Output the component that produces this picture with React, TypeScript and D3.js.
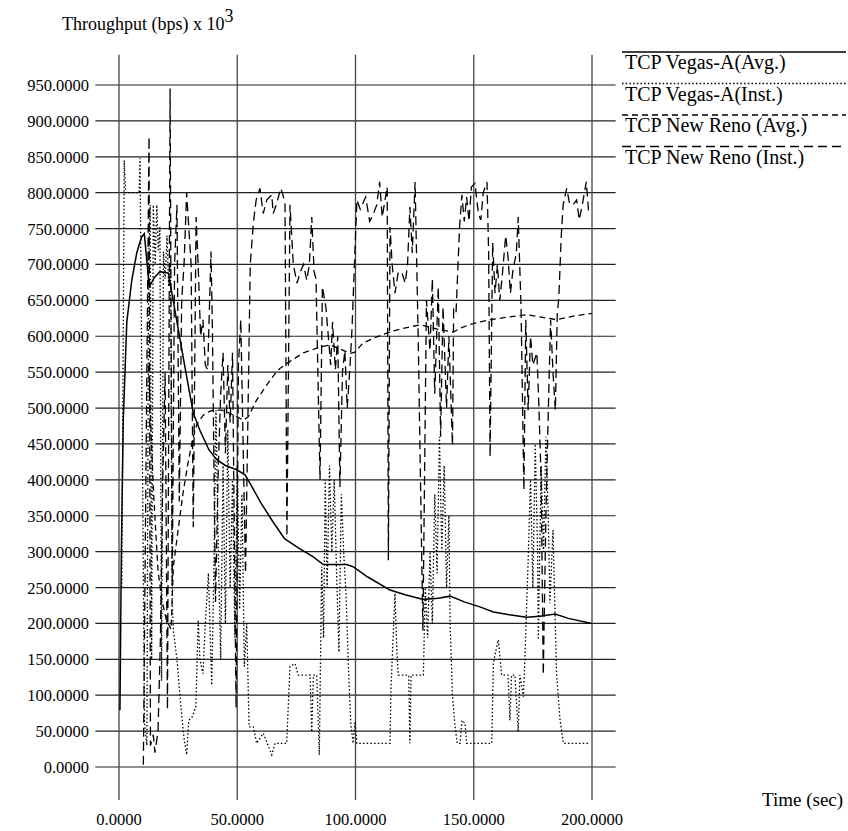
import React from "react";
import * as d3 from "d3";

// ---------- data (time sec, throughput bps x 10^3) ----------
const vegasAvg: [number, number][] = [
  [0.4, 79], [1, 300], [1.8, 483], [3.3, 620], [5.4, 678], [7.5, 716], [9.5, 738], [10.7, 743],
  [12.8, 669], [15, 682], [17.3, 690], [20.9, 688], [24.5, 620], [28, 555], [31.4, 493], [34.2, 469],
  [38, 442], [41.3, 428], [45, 420], [49.8, 414], [53.3, 407], [55.4, 395], [60, 368], [65, 342],
  [70, 318], [76, 305], [82, 293], [86.4, 282], [96.3, 282], [99, 279], [105, 265], [114.6, 246.5],
  [121, 240], [128.7, 233.5], [135, 235], [140, 238], [146, 230], [152.6, 223], [158.3, 216],
  [165, 212], [172.4, 208.5], [178, 210], [184.4, 213], [190, 207], [199.9, 200],
];

const vegasInst: [number, number][] = [
  [1.2, 250], [2.2, 845], [2.8, 800], [8.5, 800], [8.9, 848], [10.8, 60], [11.8, 30], [12.5, 700],
  [13.2, 783], [13.8, 150], [14.5, 783], [15.3, 700], [16, 783], [16.6, 720], [17.3, 752], [18, 120],
  [18.8, 718], [19.5, 680], [20.3, 740], [21, 669], [21.8, 700], [22.5, 230], [23, 190], [24.5, 150],
  [26, 90], [27.5, 40], [28.6, 17], [29.5, 65], [31, 70], [32.5, 84], [33.5, 205], [34.2, 150],
  [35.5, 130], [36.5, 200], [37.8, 270], [39.2, 114], [40.2, 288], [41, 497], [42, 300], [43, 150],
  [44, 420], [45, 200], [46, 470], [47, 250], [48, 400], [49, 180], [50, 420], [51, 220], [52, 380],
  [53, 140], [54, 200], [55, 56], [56.8, 56], [58.2, 33], [61, 47], [64.6, 17], [66, 33], [70.9, 33],
  [72.3, 140], [74.4, 144], [75.8, 128], [80.8, 128], [81.5, 49], [82.2, 128], [83.6, 128], [84.7, 17],
  [85.7, 279], [86.5, 180], [87.2, 400], [88, 250], [89, 420], [90, 300], [91, 400], [92, 270],
  [93, 160], [94, 380], [95, 300], [96, 240], [97, 140], [98, 60], [99, 33], [99.8, 63], [100.6, 33],
  [114.6, 33], [115, 110], [116.7, 242], [117.5, 160], [118.1, 128], [122.5, 128], [123, 33],
  [123.5, 128], [128.7, 128], [129.5, 250], [130.5, 180], [131.5, 300], [132.5, 200], [133.5, 380],
  [134.5, 270], [135.5, 460], [136.5, 300], [137.5, 420], [138.5, 250], [139.5, 350], [140, 200],
  [141, 100], [142, 60], [143, 33], [144.2, 33], [145, 65], [146.3, 61], [147, 33], [157.6, 33],
  [158.3, 144], [159.2, 160], [160.4, 177], [161.8, 128], [164.5, 128], [165.3, 65], [166, 128],
  [167.4, 128], [168.8, 49], [169.5, 128], [171, 98], [171.7, 158], [173, 288], [174, 400], [175, 250],
  [176, 450], [177, 300], [177.3, 177], [178.5, 420], [179.5, 300], [180.5, 460], [181.5, 350],
  [182.2, 228], [183.5, 330], [185, 130], [186.5, 65], [187.9, 33], [199.2, 33],
];

const renoAvg: [number, number][] = [
  [12.5, 560], [13.5, 470], [14.5, 390], [15.5, 330], [16.5, 274], [18, 235], [20, 205], [22, 192],
  [23, 280], [25, 330], [27, 380], [29, 420], [31, 455], [33, 478], [35.6, 490], [38, 495], [40, 497],
  [43.4, 497], [46, 494], [49.8, 488], [52.6, 483], [54.7, 488], [58, 510], [62, 530], [66, 548],
  [68, 555], [72.3, 565], [78, 577], [85, 585], [89.2, 588], [93, 583], [97.7, 576], [99.8, 578],
  [103, 590], [108, 598], [114.6, 606], [120, 611], [127.3, 616], [131, 613], [135.7, 609],
  [141.4, 606], [144.2, 611], [148, 616], [152.6, 620], [156.9, 623], [165, 627], [172.4, 630],
  [178, 627], [185, 623], [192, 628], [200, 632],
];

const renoInst: [number, number][] = [
  [10.3, 3], [11.5, 450], [12.7, 878], [13.3, 30], [14.5, 45], [15.2, 20], [16.5, 50], [17.5, 177],
  [18.5, 400], [19.5, 550], [20.5, 80], [21.6, 945], [22.5, 250], [23.5, 700], [24.5, 783], [25.5, 370],
  [26.5, 650], [27.5, 700], [28.6, 800], [29.5, 752], [30.5, 700], [31.4, 334], [32.6, 766], [33.5, 697],
  [34.5, 600], [35.5, 623], [36.5, 560], [37.5, 553], [38.9, 718], [39.5, 609], [40.8, 230], [42, 420],
  [43, 520], [44, 577], [45, 437], [46, 560], [47, 480], [48, 577], [49.5, 82], [50.5, 560], [51.5, 623],
  [53.5, 270], [55.5, 700], [56.8, 757], [58, 790], [59.6, 806], [61, 771], [62.5, 790], [64.6, 797],
  [65.2, 771], [66.5, 783], [68.4, 806], [69.3, 797], [70.2, 785], [71, 321], [72.3, 783], [73.7, 700],
  [75.3, 674], [76.5, 688], [78, 700], [79.4, 678], [80.5, 700], [81.5, 766], [82.5, 690], [83.3, 680],
  [85, 400], [86, 669], [87.5, 640], [88.5, 600], [89.5, 560], [90.3, 620], [91.5, 553], [92.5, 600],
  [93.4, 390], [94.5, 550], [95.5, 580], [96.5, 500], [97.7, 560], [98.5, 609], [100.6, 790], [102, 777],
  [104.3, 794], [106, 760], [107.6, 771], [109, 783], [110.2, 815], [111.3, 766], [112.5, 790],
  [113.4, 808], [113.9, 288], [114.6, 752], [115.5, 700], [116.7, 660], [118, 688], [119.5, 690],
  [121, 674], [122, 700], [123, 780], [124, 716], [125.2, 815], [126.5, 600], [128.5, 190], [130, 650],
  [131.5, 580], [132.5, 680], [133.5, 520], [135, 669], [136, 460], [137, 641], [138.5, 500], [139.5, 600],
  [141, 448], [141.5, 637], [142.5, 632], [144, 752], [145, 797], [146, 760], [147, 794], [148, 760],
  [149, 808], [150.5, 813], [152, 770], [153, 762], [154, 800], [155.6, 815], [156.3, 716], [156.9, 432],
  [158, 730], [159, 660], [160, 700], [161, 650], [162, 682], [163.5, 740], [164.5, 710], [165.5, 660],
  [166.5, 690], [168, 716], [168.8, 766], [170, 640], [171.2, 386], [172, 623], [173, 497], [174, 600],
  [175, 560], [176.7, 577], [177.5, 507], [178.5, 400], [179.4, 128], [180.5, 350], [181.5, 493],
  [182.5, 623], [183.5, 550], [184.5, 497], [185.3, 630], [186, 655], [187, 740], [187.8, 783],
  [189.3, 806], [190.5, 785], [192, 783], [193.5, 790], [194.6, 762], [196, 785], [197.6, 815],
  [198.5, 776], [199.4, 776],
];

const yTicks: number[] = d3.range(0, 951, 50);
const xTicks: number[] = [0, 50, 100, 150, 200];

const seriesNames = ["TCP Vegas-A(Avg.)", "TCP Vegas-A(Inst.)", "TCP New Reno (Avg.)", "TCP New Reno (Inst.)"];

// ---------- styles ----------
const FONT = "'Liberation Serif', 'Times New Roman', serif";
const dashes = [null, "1.5,2.2", "6,4", "9,5"];
const widths = [1.5, 1.3, 1.3, 1.3];

export default function App() {
  const x = d3.scaleLinear().domain([0, 200]).range([119, 592]);
  const y = d3.scaleLinear().domain([0, 950]).range([767, 85]);
  const line = d3.line<[number, number]>().x((d) => x(d[0])).y((d) => y(d[1]));
  const all = [vegasAvg, vegasInst, renoAvg, renoInst];
  const gx0 = x(-10), gx1 = x(210);
  const gy0 = y(992), gy1 = y(-46);
  const legY = [52, 83.5, 115, 146.5];

  return (
    <svg width={848} height={831} style={{ position: "absolute", left: 0, top: 0, background: "#fff" }}
      fontFamily={FONT}>
      <rect width={848} height={831} fill="#fff" />
      {/* grid */}
      {yTicks.map((t) => (
        <line key={"h" + t} x1={gx0} x2={gx1} y1={y(t)} y2={y(t)} stroke="#222" strokeWidth={1.2} />
      ))}
      {xTicks.map((t) => (
        <line key={"v" + t} x1={x(t)} x2={x(t)} y1={gy0} y2={gy1} stroke="#444" strokeWidth={1.3} />
      ))}
      {/* tick labels */}
      {yTicks.map((t) => (
        <text key={"yl" + t} x={89} y={y(t) + 6} textAnchor="end" fontSize={16.5}>
          {t.toFixed(4)}
        </text>
      ))}
      {xTicks.map((t) => (
        <text key={"xl" + t} x={x(t)} y={825} textAnchor="middle" fontSize={16.5}>
          {t.toFixed(4)}
        </text>
      ))}
      <text x={62} y={30} fontSize={18}>
        Throughput (bps) x 10<tspan dy={-8} fontSize={18}>3</tspan>
      </text>
      <text x={762} y={806} fontSize={19}>Time (sec)</text>
      {/* series */}
      {all.map((s, i) => (
        <path key={"s" + i} d={line(s) || ""} fill="none" stroke="#000" strokeWidth={widths[i]}
          strokeDasharray={dashes[i] || undefined} />
      ))}
      {/* legend */}
      {seriesNames.map((n, i) => (
        <g key={"lg" + i}>
          <line x1={622} x2={846} y1={legY[i]} y2={legY[i]} stroke="#000" strokeWidth={1.3}
            strokeDasharray={dashes[i] || undefined} />
          <text x={625} y={legY[i] + 17} fontSize={20}>{n}</text>
        </g>
      ))}
    </svg>
  );
}
